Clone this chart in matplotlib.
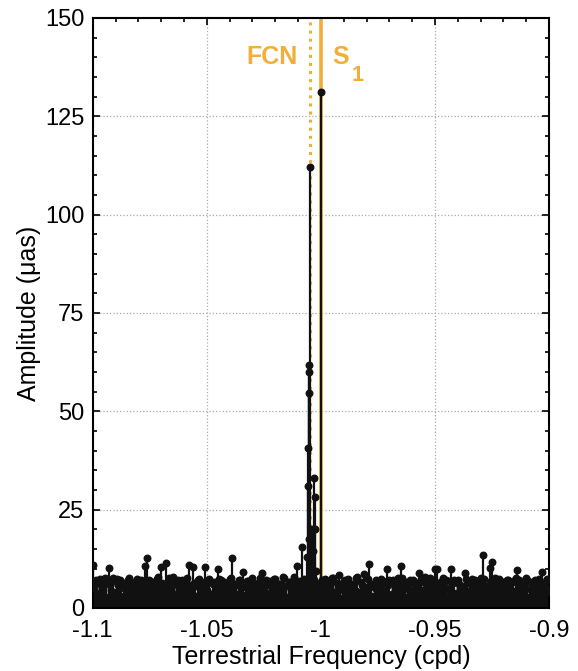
import numpy as np
import matplotlib.pyplot as plt

plt.rcParams['font.family'] = ['Liberation Sans', 'DejaVu Sans']

# spectrum background (amplitude in uas), frequency grid -1.1 .. -0.9 cpd, step 0.001
noise_amp_1 = [11.0, 6.2, 3.1, 7.4, 5.0, 2.3, 6.8, 10.1, 4.4, 7.6, 3.0, 5.8, 7.2, 2.1, 6.0, 4.7, 7.5, 3.6, 5.2, 6.9,
               3.3, 7.0, 5.5, 10.7, 12.7, 4.1, 6.6, 2.8, 7.3, 5.9, 10.4, 3.7, 11.5, 6.1, 4.0, 7.8, 2.6, 6.4, 5.1, 7.1,
               4.8, 6.9, 11.0, 3.5, 10.4, 5.7, 7.0, 2.4, 6.3, 10.3]
noise_amp_2 = [4.6, 7.4, 3.2, 6.7, 5.3, 10.0, 7.2, 2.9, 6.0, 4.5,
               7.3, 12.6, 3.8, 5.9, 7.1, 2.7, 9.2, 5.4, 6.8, 3.4, 7.5, 4.9, 6.2, 2.5, 9.0, 5.6, 7.0, 3.9, 6.5, 4.3,
               7.4, 3.1, 6.1, 5.0, 7.7, 2.8, 6.6, 4.2, 7.9, 5.5, 3.6, 6.9, 7.2, 4.8, 6.3, 5.8, 3.9, 7.1, 6.0, 4.6]
noise_amp_3 = [2.9, 6.7, 7.3, 3.7, 5.2, 7.6, 4.1, 6.4, 8.3, 2.6, 6.9, 5.1, 7.4, 3.3, 6.2, 4.7, 7.8, 2.2, 5.9, 8.6,
               4.5, 11.3, 6.1, 3.0, 7.2, 5.6, 2.8, 6.8, 4.3, 10.0, 7.1, 3.5, 6.0, 5.3, 7.7, 10.7, 2.7, 6.5, 4.9, 7.0,
               3.4, 6.6, 5.0, 9.0, 7.3, 2.9, 6.2, 4.4, 7.5, 3.8]
noise_amp_4 = [9.8, 10.0, 5.7, 6.9, 2.5, 7.2, 4.6, 9.9, 6.3, 3.1,
               7.0, 5.2, 3.6, 9.0, 6.4, 2.7, 7.4, 4.8, 6.1, 3.3, 7.6, 13.4, 5.5, 2.9, 10.1, 11.7, 6.0, 4.2, 7.3, 3.0,
               6.5, 5.0, 7.2, 2.6, 6.8, 4.4, 9.6, 7.1, 3.5, 5.9, 7.5, 2.8, 6.3, 4.7, 7.0, 3.2, 6.6, 9.2, 5.4, 7.4,
               4.1]

# background values half-way between the grid points above
noise_mid_1 = [5.4, 7.1, 3.9, 6.2, 4.8, 7.6, 2.7, 5.9, 6.8, 4.1, 7.3, 3.4, 6.5, 5.0, 2.9, 7.0, 4.6, 6.1, 3.8, 7.4,
               5.7, 2.5, 6.9, 4.3, 7.2, 5.1, 3.2, 6.6, 7.8, 4.0, 6.3, 5.5, 2.8, 7.5, 4.9, 6.0, 3.6, 7.1, 5.3, 6.7,
               2.6, 7.7, 4.4, 5.8, 6.4, 3.1, 7.3, 5.0, 4.2, 6.9, 7.0, 3.5, 6.2, 5.6, 2.4, 7.4, 4.7, 6.6, 3.9, 5.2,
               7.6, 4.5, 6.1, 2.9, 7.2, 5.4, 3.3, 6.8, 4.0, 7.0, 5.9, 2.7, 6.4, 7.5, 4.3, 5.7, 3.0, 6.9, 5.1, 7.3,
               4.6, 6.2, 3.7, 7.8, 5.5, 2.6, 6.5, 4.9, 7.1, 3.4, 6.0, 5.3, 7.4, 2.8, 6.7, 4.1, 7.6, 5.8, 3.2, 6.3]
noise_mid_2 = [7.2, 4.4, 5.9, 3.1, 6.8, 7.5, 2.5, 5.6, 6.1, 4.7, 7.0, 3.8, 6.4, 5.2, 2.9, 7.7, 4.0, 6.6, 5.5, 3.5,
               7.3, 6.0, 2.7, 5.1, 6.9, 4.5, 7.4, 3.3, 6.2, 5.8, 2.6, 7.1, 4.9, 6.5, 3.9, 7.6, 5.3, 2.8, 6.3, 4.2,
               7.0, 5.7, 3.2, 6.7, 4.6, 7.8, 2.4, 6.0, 5.0, 7.2, 3.6, 6.4, 4.8, 7.5, 5.4, 2.9, 6.8, 4.1, 7.1, 3.7,
               6.1, 5.6, 2.6, 7.3, 4.4, 6.6, 3.4, 7.0, 5.2, 6.2, 2.8, 7.4, 4.7, 5.9, 6.9, 3.1, 7.7, 5.5, 4.0, 6.5,
               3.5, 7.2, 5.0, 6.3, 2.7, 7.6, 4.3, 6.0, 5.7, 3.0, 7.1, 4.9, 6.7, 2.5, 5.8, 7.3, 3.8, 6.4, 5.1, 7.0]

# lines around the FCN and S1 frequencies
peak_freq = [-1.0106, -1.0084, -1.0062, -1.0058, -1.0058, -1.0051, -1.0051, -1.0051, -1.0051,
             -1.0048, -1.0044, -1.0040, -1.0033, -1.0029, -1.0026, -1.0026, -1.0020, -1.0]
peak_amp = [10.7, 15.4, 13.0, 40.7, 31.1, 61.7, 59.9, 54.7, 17.5,
            112.0, 12.0, 20.0, 14.5, 33.0, 28.3, 20.2, 9.5, 131.2]

fcn_freq = -1.0048
s1_freq = -1.0

xticks = [-1.1, -1.05, -1.0, -0.95, -0.9]
xtick_labels = ['-1.1', '-1.05', '-1', '-0.95', '-0.9']
yticks = [0, 25, 50, 75, 100, 125, 150]

orange = '#F2AE3A'

noise_amp = np.array(noise_amp_1 + noise_amp_2 + noise_amp_3 + noise_amp_4)
noise_freq = np.linspace(-1.1, -0.9, len(noise_amp))
mid_amp = np.array(noise_mid_1 + noise_mid_2)
mid_freq = noise_freq[:-1] + 0.0005

fig = plt.figure(figsize=(5.78, 6.71), dpi=100)
ax = fig.add_axes([0.1604, 0.0939, 0.7896, 0.8793])

ax.axvline(fcn_freq, color=orange, lw=2.2, ls=':', zorder=1)
ax.axvline(s1_freq, color=orange, lw=2.6, zorder=1)

freq = np.concatenate([mid_freq, noise_freq, peak_freq])
amp = np.concatenate([mid_amp, noise_amp, peak_amp])
ax.vlines(freq, 0, amp, color='#111111', lw=1.6, zorder=2)
ax.plot(freq, amp, 'o', color='#111111', ms=4.7, zorder=3)

ax.text(-1.0100, 140.2, 'FCN', color=orange, fontsize=18, fontweight='bold',
        ha='right', va='center')
ax.text(-0.9951, 140.2, 'S', color=orange, fontsize=18, fontweight='bold',
        ha='left', va='center')
ax.text(-0.98635, 135.5, '1', color=orange, fontsize=15.5, fontweight='bold',
        ha='left', va='center')

ax.set_xlim(-1.1, -0.9)
ax.set_ylim(0, 150)
ax.set_xticks(xticks)
ax.set_xticklabels(xtick_labels)
ax.set_yticks(yticks)
ax.set_xticks(np.arange(-1.1, -0.899, 0.01), minor=True)
ax.set_yticks(np.arange(0, 151, 5), minor=True)
ax.tick_params(which='both', direction='in', top=True, right=True, width=1.2)
ax.tick_params(which='major', length=5)
ax.tick_params(which='minor', length=3)
ax.tick_params(axis='x', labelsize=17, pad=9)
ax.tick_params(axis='y', labelsize=17, pad=6)
ax.grid(True, which='major', ls=':', color='#aaaaaa', lw=0.9)
ax.set_axisbelow(True)
for s in ax.spines.values():
    s.set_linewidth(1.5)

ax.set_xlabel('Terrestrial Frequency (cpd)', fontsize=18, labelpad=2)
ax.set_ylabel('Amplitude (μas)', fontsize=18, labelpad=3)

fig.savefig('out.png', dpi=100)
